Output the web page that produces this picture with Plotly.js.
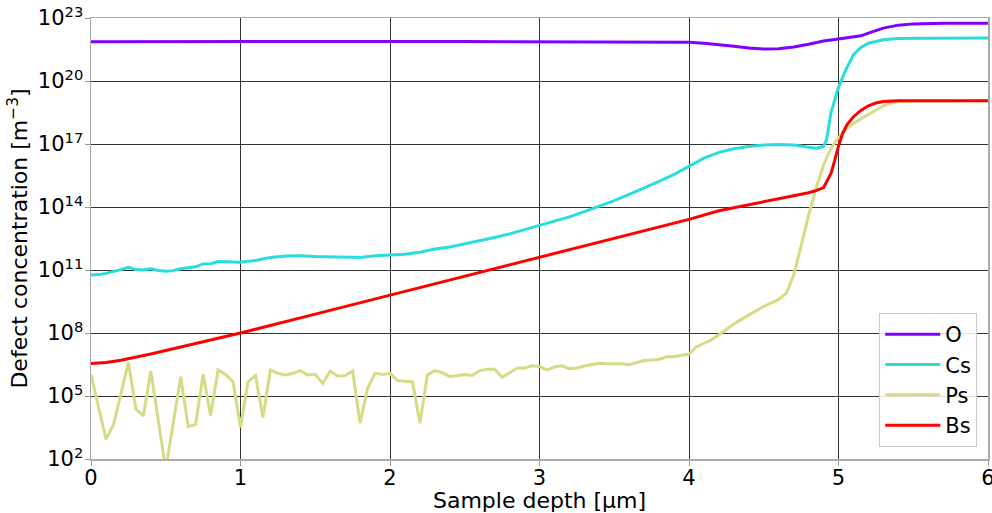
<!DOCTYPE html>
<html>
<head>
<meta charset="utf-8">
<script src="https://cdn.plot.ly/plotly-3.0.1.min.js"></script>
<style>html,body{margin:0;padding:0;background:#fff;}#chart{width:992px;height:513px;}</style>
</head>
<body>
<div id="chart"></div>
<script>
// Values are log10 of defect concentration [m^-3]
const seriesNames = ["O", "Cs", "Ps", "Bs"];
const seriesColors = ["#8000ff", "#2adddd", "#d4dd85", "#ff0000"];

const xO = [0, 0.5, 1, 1.5, 2, 2.5, 3, 3.5, 3.8, 3.9, 4.0, 4.1, 4.2, 4.3, 4.4, 4.5, 4.6, 4.7, 4.8, 4.9, 5.0, 5.1, 5.15, 5.2, 5.3, 5.4, 5.5, 5.7, 6.0];
const logO = [21.87, 21.88, 21.88, 21.88, 21.88, 21.88, 21.88, 21.88, 21.88, 21.87, 21.85, 21.80, 21.74, 21.66, 21.57, 21.52, 21.54, 21.62, 21.75, 21.90, 22.00, 22.08, 22.15, 22.28, 22.52, 22.66, 22.72, 22.75, 22.75];

const xCs = [0, 0.05, 0.1, 0.15, 0.2, 0.25, 0.3, 0.35, 0.4, 0.45, 0.5, 0.55, 0.6, 0.65, 0.7, 0.75, 0.8, 0.85, 0.9, 1.0, 1.1, 1.15, 1.2, 1.3, 1.4, 1.5, 1.6, 1.7, 1.8, 1.9, 2.0, 2.1, 2.2, 2.3, 2.4, 2.5, 2.6, 2.7, 2.8, 2.9, 3.0, 3.1, 3.2, 3.3, 3.4, 3.5, 3.6, 3.7, 3.8, 3.9, 4.0, 4.1, 4.2, 4.3, 4.4, 4.5, 4.6, 4.7, 4.8, 4.85, 4.9, 4.92, 4.95, 5.0, 5.05, 5.1, 5.15, 5.2, 5.3, 5.4, 5.6, 6.0];
const logCs = [10.76, 10.78, 10.84, 10.92, 11.02, 11.13, 11.02, 11.00, 11.06, 10.98, 10.94, 10.97, 11.06, 11.11, 11.15, 11.29, 11.30, 11.40, 11.38, 11.37, 11.45, 11.52, 11.60, 11.67, 11.68, 11.64, 11.63, 11.63, 11.59, 11.68, 11.71, 11.75, 11.85, 12.00, 12.10, 12.24, 12.40, 12.55, 12.72, 12.92, 13.12, 13.32, 13.53, 13.78, 14.03, 14.30, 14.60, 14.90, 15.22, 15.55, 15.95, 16.33, 16.60, 16.77, 16.88, 16.95, 16.98, 16.95, 16.85, 16.80, 16.88, 17.20, 18.50, 19.70, 20.55, 21.25, 21.60, 21.80, 21.96, 22.02, 22.04, 22.05];

const xPs = [0, 0.1, 0.15, 0.25, 0.3, 0.35, 0.4, 0.5, 0.6, 0.65, 0.7, 0.75, 0.8, 0.85, 0.9, 0.95, 1.0, 1.05, 1.1, 1.15, 1.2, 1.25, 1.3, 1.35, 1.4, 1.45, 1.5, 1.55, 1.6, 1.65, 1.7, 1.75, 1.8, 1.85, 1.9, 1.95, 2.0, 2.05, 2.1, 2.15, 2.2, 2.25, 2.3, 2.35, 2.4, 2.45, 2.5, 2.55, 2.6, 2.65, 2.7, 2.75, 2.8, 2.85, 2.9, 2.95, 3.0, 3.05, 3.1, 3.15, 3.2, 3.25, 3.3, 3.35, 3.4, 3.45, 3.5, 3.55, 3.6, 3.65, 3.7, 3.75, 3.8, 3.85, 3.9, 3.95, 4.0, 4.05, 4.1, 4.15, 4.2, 4.25, 4.3, 4.35, 4.4, 4.45, 4.5, 4.55, 4.6, 4.65, 4.7, 4.75, 4.8, 4.85, 4.9, 4.95, 5.0, 5.05, 5.1, 5.15, 5.2, 5.25, 5.3, 5.35, 5.4, 5.5, 6.0];
const logPs = [6.03, 2.94, 3.62, 6.60, 4.38, 4.05, 6.19, 1.5, 5.92, 3.54, 3.65, 6.03, 4.07, 6.24, 6.03, 5.68, 3.50, 5.68, 5.97, 3.97, 6.24, 6.08, 6.00, 6.08, 6.21, 6.00, 6.03, 5.60, 6.19, 5.95, 5.97, 6.19, 3.70, 5.37, 6.08, 6.03, 6.08, 5.73, 5.70, 5.68, 3.70, 6.00, 6.21, 6.11, 5.92, 5.98, 6.02, 5.98, 6.21, 6.27, 6.27, 5.89, 6.11, 6.32, 6.33, 6.44, 6.40, 6.24, 6.38, 6.44, 6.30, 6.33, 6.43, 6.50, 6.56, 6.54, 6.54, 6.54, 6.49, 6.60, 6.69, 6.71, 6.75, 6.87, 6.87, 6.94, 7.00, 7.35, 7.50, 7.67, 7.92, 8.18, 8.43, 8.65, 8.87, 9.08, 9.27, 9.43, 9.60, 9.89, 10.75, 12.15, 13.60, 14.90, 16.00, 16.80, 17.30, 17.70, 17.98, 18.20, 18.42, 18.62, 18.82, 18.94, 19.01, 19.05, 19.06];

const xBs = [0, 0.1, 0.2, 0.3, 0.4, 0.5, 0.75, 1.0, 1.5, 2.0, 2.5, 3.0, 3.5, 4.0, 4.2, 4.4, 4.6, 4.7, 4.8, 4.85, 4.9, 4.93, 4.95, 4.97, 5.0, 5.03, 5.06, 5.1, 5.15, 5.2, 5.25, 5.3, 5.4, 6.0];
const logBs = [6.55, 6.60, 6.70, 6.84, 7.00, 7.17, 7.58, 8.00, 8.90, 9.80, 10.70, 11.60, 12.50, 13.41, 13.82, 14.12, 14.40, 14.54, 14.68, 14.78, 14.92, 15.29, 15.60, 16.10, 16.90, 17.55, 17.95, 18.30, 18.60, 18.82, 18.95, 19.02, 19.06, 19.06];

const xTicks = [0, 1, 2, 3, 4, 5, 6];
const yTickExponents = [2, 5, 8, 11, 14, 17, 20, 23];

const xs = [xO, xCs, xPs, xBs];
const logs = [logO, logCs, logPs, logBs];

const traces = seriesNames.map((name, i) => ({
  type: "scatter",
  mode: "lines",
  name: name,
  legendgroup: name,
  x: xs[i],
  y: logs[i].map(v => Math.pow(10, v)),
  line: {color: seriesColors[i], width: 3},
  hoverinfo: "skip"
}));

const tickFont = {family: "DejaVu Sans, sans-serif", size: 21, color: "#000"};
const titleFont = {family: "DejaVu Sans, sans-serif", size: 22, color: "#000"};
const legendFont = {family: "DejaVu Sans, sans-serif", size: 21, color: "#000"};

const layout = {
  width: 992,
  height: 513,
  margin: {l: 91, r: 4, t: 18, b: 54},
  paper_bgcolor: "#fff",
  plot_bgcolor: "#fff",
  font: tickFont,
  showlegend: true,
  xaxis: {
    range: [0, 6],
    tickvals: xTicks,
    ticktext: xTicks.map(String),
    ticklabeloverflow: "allow",
    ticklabelstandoff: -6,
    ticks: "outside",
    ticklen: 5,
    tickcolor: "#999",
    showgrid: true,
    gridcolor: "#333",
    gridwidth: 1,
    showline: true,
    linecolor: "#aaa",
    linewidth: 1.5,
    mirror: true,
    zeroline: false,
    tickfont: tickFont,
    title: {text: "Sample depth [µm]", font: titleFont, standoff: 4}
  },
  yaxis: {
    type: "log",
    range: [2, 23],
    tickvals: yTickExponents.map(e => Math.pow(10, e)),
    ticktext: yTickExponents.map(e => "10<sup>" + e + "</sup>"),
    ticklabeloverflow: "allow",
    ticklabelstandoff: -3,
    ticks: "outside",
    ticklen: 5,
    tickcolor: "#999",
    showgrid: true,
    gridcolor: "#333",
    gridwidth: 1,
    showline: true,
    linecolor: "#aaa",
    linewidth: 1.5,
    mirror: true,
    zeroline: false,
    tickfont: tickFont,
    title: {text: "Defect concentration [m<sup>−3</sup>]", font: titleFont, standoff: 4}
  },
  legend: {
    x: 0.988,
    y: 0.027,
    xanchor: "right",
    yanchor: "bottom",
    bgcolor: "rgba(255,255,255,0.85)",
    bordercolor: "#ccc",
    borderwidth: 1,
    font: legendFont,
    itemwidth: 55,
    tracegroupgap: 0
  }
};

Plotly.newPlot("chart", traces, layout, {displayModeBar: false, staticPlot: true});
</script>
</body>
</html>
